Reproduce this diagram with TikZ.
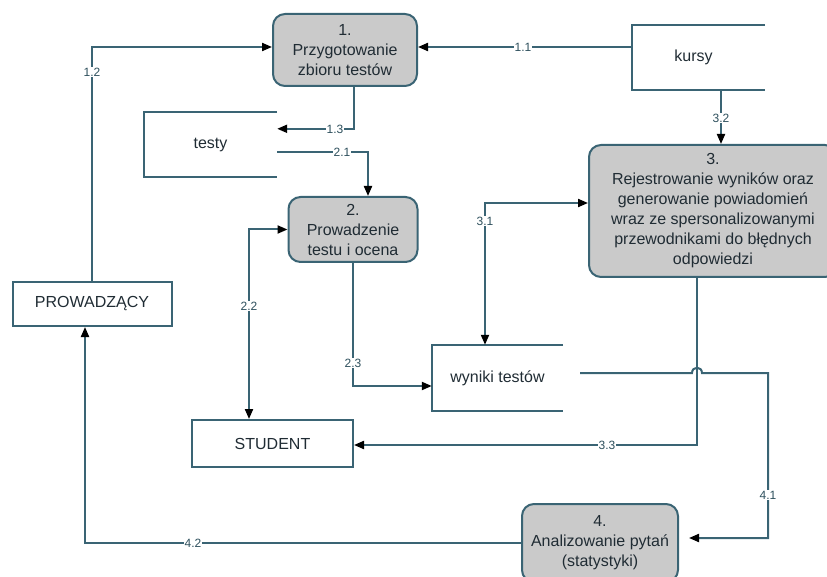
\documentclass[tikz,border=0pt]{standalone}
\usepackage{fontspec}
\setmainfont{Liberation Sans}
\usetikzlibrary{arrows.meta}
\definecolor{ln}{RGB}{58,100,116}
\definecolor{tx}{RGB}{32,44,52}
\definecolor{pf}{RGB}{202,202,202}
\begin{document}
\begin{tikzpicture}[x=1pt,y=-1pt,
  every node/.style={text=tx, font=\fontsize{16}{20}\selectfont},
  proc/.style={draw=ln, line width=2pt, fill=pf, rounded corners=12pt, align=center, inner sep=0pt},
  ent/.style={draw=ln, line width=2pt, fill=white, inner sep=0pt},
  store/.style={inner sep=0pt},
  storeline/.style={draw=ln, line width=2pt},
  flow/.style={draw=ln, line width=2pt, -{Triangle[length=10pt,width=8pt,color=black]}},
  flowboth/.style={draw=ln, line width=2pt, {Triangle[length=10pt,width=8pt,color=black]}-{Triangle[length=10pt,width=8pt,color=black]}},
  lbl/.style={fill=white, inner sep=1pt, text=ln!80!black, font=\fontsize{12}{14}\selectfont}
]
\useasboundingbox (0,0) rectangle (827,577);

% processes
\node[proc, minimum width=144pt, minimum height=72pt] (n1) at (345,50) {1.\\Przygotowanie\\zbioru testów};
\node[proc, minimum width=129pt, minimum height=65pt] (n2) at (353,229.5) {2.\\Prowadzenie\\testu i ocena};
\node[proc, minimum width=248pt, minimum height=132pt] (n3) at (713,211) {3.\\Rejestrowanie wyników oraz\\generowanie powiadomień\\wraz ze spersonalizowanymi\\przewodnikami do błędnych\\odpowiedzi};
\node[proc, minimum width=156pt, minimum height=78pt] (n4) at (600,543) {4.\\Analizowanie pytań\\(statystyki)};

% entities
\node[ent, minimum width=159pt, minimum height=44pt] (prow) at (92,304) {PROWADZĄCY};
\node[ent, minimum width=161pt, minimum height=47pt] (student) at (272.5,443.5) {STUDENT};

% data stores
\node[store, minimum width=133pt, minimum height=65pt] (kursy) at (698.5,57.5) {\hspace*{-10pt}kursy};
\node[store, minimum width=133pt, minimum height=65pt] (testy) at (210.5,144.5) {testy};
\node[store, minimum width=131pt, minimum height=66pt] (wyniki) at (497.5,378) {wyniki testów};
\draw[storeline] (kursy.north east) -| (kursy.south west) -- (kursy.south east);
\draw[storeline] (testy.north east) -| (testy.south west) -- (testy.south east);
\draw[storeline] (wyniki.north east) -| (wyniki.south west) -- (wyniki.south east);

% flows
\draw[flow] ([yshift=3pt]kursy.west |- n1.east) -- ([yshift=3pt]n1.east);
\draw[flow] (prow.north) |- ([yshift=3pt]n1.west);
\draw[flow] ([xshift=9pt]n1.south) |- ([yshift=-17pt]testy.north east);
\draw[flow] ([yshift=-7.5pt]testy.east) -| ([xshift=15pt]n2.north);
\draw[flowboth] (n2.west) -| ([xshift=-23.5pt]student.north);
\draw[flow] (n2.south) |- ([yshift=-8pt]wyniki.west);
\draw[flowboth] ([yshift=8pt]n3.west) -| ([xshift=-12.5pt]wyniki.north);
\draw[flow] ([xshift=22.5pt]kursy.south) -- ([xshift=22.5pt]kursy.south |- n3.north);
\draw[flow] ([xshift=-16pt]n3.south) |- ([yshift=-1.5pt]student.east);
\coordinate (h1) at (692,373);
\coordinate (h2) at (702,373);
\coordinate (c41) at (768,538);
\draw[flow, shorten >=10pt] ([xshift=17pt,yshift=5pt]wyniki.east) -- (h1)
  .. controls (692,366) and (702,366) .. (h2) -| (c41) -- ([yshift=5pt]n4.east);
\draw[flow] (n4.west) -| ([xshift=-7pt]prow.south);

% labels
\node[lbl] (l11) at (523,47) {1.1};
\node[lbl] (l12) at (92,72) {1.2};
\node[lbl] (l13) at (335,129) {1.3};
\node[lbl] (l21) at (342,152) {2.1};
\node[lbl] (l22) at (249,306) {2.2};
\node[lbl] (l23) at (353,363) {2.3};
\node[lbl] (l31) at (485,221) {3.1};
\node[lbl] (l32) at (721,118) {3.2};
\node[lbl] (l33) at (607,445) {3.3};
\node[lbl] (l41) at (768,495) {4.1};
\node[lbl] (l42) at (193,543) {4.2};
\end{tikzpicture}
\end{document}
